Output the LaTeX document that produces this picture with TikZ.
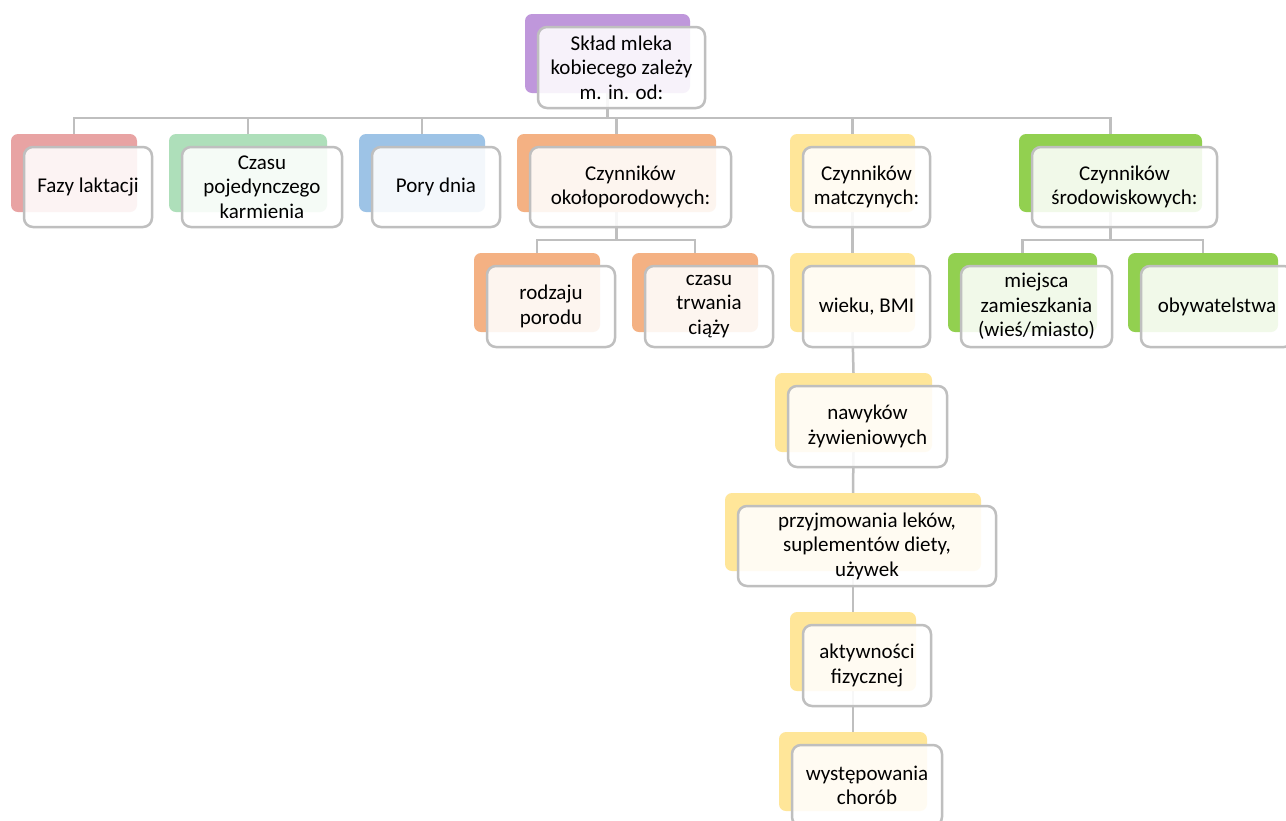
\documentclass[tikz,border=0pt]{standalone}
\usepackage{fontspec}
\setmainfont{Carlito}
\usetikzlibrary{backgrounds}
\definecolor{cpurple}{HTML}{BF97DB}
\definecolor{cred}{HTML}{E8A3A3}
\definecolor{cgreenl}{HTML}{AEDFBA}
\definecolor{cblue}{HTML}{9DC3E6}
\definecolor{corange}{HTML}{F4B183}
\definecolor{cyellow}{HTML}{FFE699}
\definecolor{cgreen}{HTML}{92D050}
\definecolor{cline}{HTML}{BFBFBF}
\tikzset{
  backbox/.style={draw=none, rounded corners=7pt, inner sep=0pt, outer sep=0pt},
  frontbox/.style={draw=cline, line width=2.5pt, rounded corners=9pt, fill=white, fill opacity=0.88, text opacity=1, inner sep=0pt, outer sep=0pt, align=center, font=\fontsize{21}{24.5}\selectfont},
  conn/.style={draw=cline, line width=2.5pt}
}
\newcommand\sanode[7]{%
  \node[backbox, fill=#2, minimum width=#5, minimum height=#6] (#1b) at (#3,#4) {};
  \node[frontbox, minimum width=#5+2, minimum height=#6+2] (#1) at (#3+14,#4+14) {#7};
}
\begin{document}
\begin{tikzpicture}[x=1pt,y=-1pt]
\clip (0,0) rectangle (1286,820);
\sanode{top}{cpurple}{607.5}{53.5}{165}{79}{Skład mleka\\kobiecego zależy\\m. in. od:}
\sanode{n1}{cred}{74}{173}{126}{78}{Fazy laktacji}
\sanode{n2}{cgreenl}{248}{173}{158}{78}{Czasu\\pojedynczego\\karmienia}
\sanode{n3}{cblue}{422}{173}{126}{78}{Pory dnia}
\sanode{n4}{corange}{616.5}{173}{199}{78}{Czynników\\okołoporodowych:}
\sanode{n5}{cyellow}{852.5}{173}{125}{78}{Czynników\\matczynych:}
\sanode{n6}{cgreen}{1110.5}{173}{183}{78}{Czynników\\środowiskowych:}
\sanode{r1}{corange}{537}{292.5}{126}{79}{rodzaju\\porodu}
\sanode{r2}{corange}{695}{292.5}{126}{79}{czasu\\trwania\\ciąży}
\sanode{g1}{cgreen}{1022.5}{292.5}{149}{79}{miejsca\\zamieszkania\\(wieś/miasto)}
\sanode{g2}{cgreen}{1203}{292.5}{150}{79}{obywatelstwa}
\sanode{m1}{cyellow}{852.5}{292.5}{125}{79}{wieku, BMI}
\sanode{m2}{cyellow}{853.5}{412.5}{157}{79}{nawyków\\żywieniowych}
\sanode{m3}{cyellow}{853}{532}{256}{78}{przyjmowania leków,\\suplementów diety,\\używek}
\sanode{m4}{cyellow}{853}{651.5}{126}{79}{aktywności\\fizycznej}
\sanode{m5}{cyellow}{853}{771.5}{148}{79}{występowania\\chorób}
\begin{pgfonlayer}{background}
\fill[white] (0,0) rectangle (1286,820);
\foreach \c in {n1,n2,n3,n4,n5,n6}
  \draw[conn] (topb.south) -- ++(0,25) -| (\c b.north);
\foreach \c in {r1,r2}
  \draw[conn] (n4b.south) -- ++(0,28) -| (\c b.north);
\foreach \c in {g1,g2}
  \draw[conn] (n6b.south) -- ++(0,28) -| (\c b.north);
\draw[conn] (n5b.south) -- (m1b.north);
\draw[conn] (m1b.south) -- (m2b.north);
\draw[conn] (m2b.south) -- (m3b.north);
\draw[conn] (m3b.south) -- (m4b.north);
\draw[conn] (m4b.south) -- (m5b.north);
\end{pgfonlayer}
\end{tikzpicture}
\end{document}
